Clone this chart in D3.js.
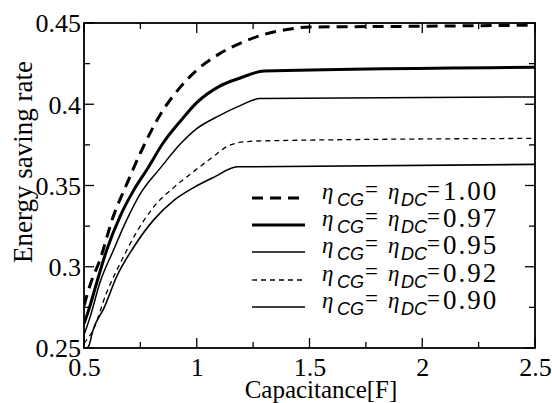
<!DOCTYPE html>
<html>
<head>
<meta charset="utf-8">
<script src="https://cdn.jsdelivr.net/npm/d3@7"></script>
<style>
  body { margin: 0; background: #fff; }
  svg { display: block; }
</style>
</head>
<body>
<svg id="chart" width="552" height="403"></svg>
<script>
// efficiency labels, one per curve
const etaLabels = ["1.00", "0.97", "0.95", "0.92", "0.90"];

// capacitance [F]
const cap100 = [0.5, 0.53, 0.57, 0.63, 0.69, 0.75, 0.84, 0.93, 1.0, 1.1, 1.2, 1.3, 1.4, 1.5, 2.0, 2.5];
const rate100 = [0.276, 0.290, 0.304, 0.331, 0.351, 0.370, 0.394, 0.411, 0.421, 0.431, 0.438, 0.443, 0.446, 0.4475, 0.448, 0.4487];

const cap097 = [0.5, 0.52, 0.556, 0.6, 0.66, 0.72, 0.78, 0.85, 0.93, 1.0, 1.1, 1.19, 1.3, 2.5];
const rate097 = [0.265, 0.273, 0.290, 0.310, 0.331, 0.347, 0.360, 0.376, 0.390, 0.401, 0.411, 0.416, 0.4205, 0.4228];

const cap095 = [0.5, 0.527, 0.57, 0.63, 0.69, 0.75, 0.84, 0.93, 1.0, 1.1, 1.19, 1.28, 2.5];
const rate095 = [0.258, 0.269, 0.290, 0.310, 0.329, 0.345, 0.361, 0.376, 0.385, 0.393, 0.399, 0.4035, 0.4045];

const cap092 = [0.5, 0.54, 0.6, 0.66, 0.73, 0.81, 0.9, 0.99, 1.075, 1.134, 1.22, 1.3, 2.5];
const rate092 = [0.253, 0.261, 0.284, 0.302, 0.3205, 0.337, 0.349, 0.359, 0.368, 0.374, 0.377, 0.3775, 0.379];

const cap090 = [0.5, 0.52, 0.54, 0.59, 0.645, 0.72, 0.81, 0.9, 0.99, 1.075, 1.18, 2.5];
const rate090 = [0.249, 0.251, 0.261, 0.275, 0.294, 0.312, 0.329, 0.341, 0.349, 0.355, 0.3615, 0.363];

// tick labels
const xTicks = [0.5, 1, 1.5, 2, 2.5];
const yTicks = [0.25, 0.3, 0.35, 0.4, 0.45];

const series = [
    { label: etaLabels[0], x: cap100, y: rate100, width: 3, dash: "11,7" },
    { label: etaLabels[1], x: cap097, y: rate097, width: 3, dash: null },
    { label: etaLabels[2], x: cap095, y: rate095, width: 1.5, dash: null },
    { label: etaLabels[3], x: cap092, y: rate092, width: 1.3, dash: "5,4" },
    { label: etaLabels[4], x: cap090, y: rate090, width: 1.6, dash: null }
];

const margin = { left: 84, right: 17, top: 23, bottom: 55 };
const width = 552, height = 403;
const svg = d3.select("svg#chart");

const x = d3.scaleLinear().domain([0.5, 2.5]).range([margin.left, width - margin.right]);
const y = d3.scaleLinear().domain([0.25, 0.45]).range([height - margin.bottom, margin.top]);

const serif = "'Liberation Serif', 'Times New Roman', serif";
const sans = "'Liberation Sans', Arial, sans-serif";

svg.append("defs").append("clipPath").attr("id", "plot-clip")
    .append("rect")
    .attr("x", x(0.5)).attr("y", y(0.45))
    .attr("width", x(2.5) - x(0.5)).attr("height", y(0.25) - y(0.45));

// inside ticks on all four sides
const minorX = d3.range(0.5, 2.5001, 0.25);
const minorY = d3.range(0.25, 0.4501, 0.025);
const isMajor = (v, step) => Math.abs(v / step - Math.round(v / step)) < 1e-6;

const tickG = svg.append("g").attr("stroke", "#000").attr("stroke-width", 1.3);
minorX.forEach(v => {
    const len = isMajor(v, 0.5) ? 10 : 6;
    tickG.append("line").attr("x1", x(v)).attr("x2", x(v))
        .attr("y1", y(0.25)).attr("y2", y(0.25) - len);
    tickG.append("line").attr("x1", x(v)).attr("x2", x(v))
        .attr("y1", y(0.45)).attr("y2", y(0.45) + len);
});
minorY.forEach(v => {
    const len = isMajor(v, 0.05) ? 10 : 6;
    tickG.append("line").attr("x1", x(0.5)).attr("x2", x(0.5) + len)
        .attr("y1", y(v)).attr("y2", y(v));
    tickG.append("line").attr("x1", x(2.5)).attr("x2", x(2.5) - len)
        .attr("y1", y(v)).attr("y2", y(v));
});

// tick labels through d3 axes (domain hidden)
const xAxis = svg.append("g")
    .attr("transform", `translate(0,${y(0.25)})`)
    .call(d3.axisBottom(x).tickValues(xTicks).tickSize(0).tickPadding(10)
        .tickFormat(d => d3.format("")(d)));
const yAxis = svg.append("g")
    .attr("transform", `translate(${x(0.5)},0)`)
    .call(d3.axisLeft(y).tickValues(yTicks).tickSize(0).tickPadding(3)
        .tickFormat(d => d3.format("")(d)));
[xAxis, yAxis].forEach(g => {
    g.attr("font-family", serif).attr("font-size", 26);
    g.select(".domain").remove();
    g.selectAll("text").attr("fill", "#000");
});
xAxis.selectAll("text").attr("dy", "0.7em");
yAxis.selectAll("text").attr("dy", "0.34em");

// plot frame
svg.append("rect")
    .attr("x", x(0.5)).attr("y", y(0.45))
    .attr("width", x(2.5) - x(0.5)).attr("height", y(0.25) - y(0.45))
    .attr("fill", "none").attr("stroke", "#000").attr("stroke-width", 1.8);

// curves
const line = d3.line()
    .x(d => x(d[0]))
    .y(d => y(d[1]))
    .curve(d3.curveMonotoneX);

svg.append("g").attr("clip-path", "url(#plot-clip)")
    .selectAll("path")
    .data(series)
    .join("path")
    .attr("d", s => line(s.x.map((v, i) => [v, s.y[i]])))
    .attr("fill", "none")
    .attr("stroke", "#000")
    .attr("stroke-width", s => s.width)
    .attr("stroke-dasharray", s => s.dash);

// legend
const legend = svg.append("g").attr("fill", "#000");
const rowY = [198, 225, 252, 280, 307];
series.forEach((s, i) => {
    const yy = rowY[i];
    legend.append("line")
        .attr("x1", 252).attr("x2", 305)
        .attr("y1", yy).attr("y2", yy)
        .attr("stroke", "#000")
        .attr("stroke-width", s.width)
        .attr("stroke-dasharray", s.dash);
    const t = legend.append("text")
        .style("font-family", serif)
        .style("font-size", "23px");
    t.append("tspan").attr("x", 322).attr("y", yy + 1)
        .style("font-style", "italic").text("\u03b7");
    t.append("tspan").attr("x", 337).attr("y", yy + 8)
        .style("font-family", sans).style("font-style", "italic")
        .style("font-size", "18px").text("CG");
    t.append("tspan").attr("x", 365).attr("y", yy - 1).text("=");
    t.append("tspan").attr("x", 388).attr("y", yy + 1)
        .style("font-style", "italic").text("\u03b7");
    t.append("tspan").attr("x", 401).attr("y", yy + 8)
        .style("font-family", sans).style("font-style", "italic")
        .style("font-size", "18px").text("DC");
    t.append("tspan").attr("x", 427).attr("y", yy - 1).text("=");
    t.append("tspan").attr("x", 443).attr("y", yy + 2)
        .style("font-size", "27px").style("letter-spacing", "2px").text(s.label);
});

// axis titles
svg.append("text")
    .attr("x", 321).attr("y", 398)
    .attr("text-anchor", "middle")
    .attr("fill", "#000")
    .style("font-family", serif)
    .style("font-size", "25px")
    .text("Capacitance[F]");

svg.append("text")
    .attr("transform", "translate(32,162) rotate(-90)")
    .attr("text-anchor", "middle")
    .attr("fill", "#000")
    .style("font-family", serif)
    .style("font-size", "27px")
    .text("Energy saving rate");
</script>
</body>
</html>
